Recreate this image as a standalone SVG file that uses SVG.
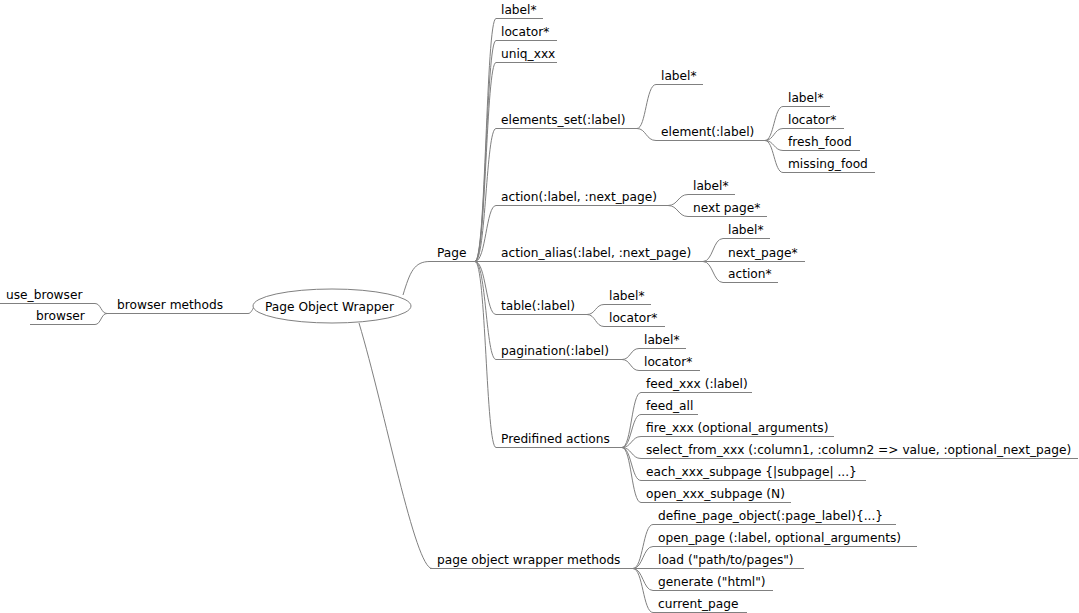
<svg xmlns="http://www.w3.org/2000/svg" width="1079" height="613" viewBox="0 0 1079 613">
  <style>
    text { font-family: "DejaVu Sans", "Liberation Sans", sans-serif; font-size: 12.2px; fill: #000; }
    .u { stroke: #808080; stroke-width: 1; fill: none; }
    .c path { stroke: #808080; stroke-width: 1; fill: none; }
  </style>
  <rect width="1079" height="613" fill="#fff"/>

  <!-- edges -->
  <g class="c" id="connectors">
    <!-- root to left branch -->
    <path d="M248,313.5 C251,313.5 252,310 254,307"/>
    <path d="M107,313.5 C101,313.5 101,303.5 95,303.5"/>
    <path d="M107,313.5 C101,313.5 101,324.5 95,324.5"/>
    <!-- root to Page / wrapper methods -->
    <path d="M403,295 C410,272 414,261.5 430,261.5"/>
    <path d="M359,323 C385,410 415,568.5 432,568.5"/>
    <!-- Page fork -->
    <path d="M475,261.5 C486,261.5 486,18.5 496,18.5"/>
    <path d="M475,261.5 C486,261.5 486,40.5 496,40.5"/>
    <path d="M475,261.5 C486,261.5 486,62.5 496,62.5"/>
    <path d="M475,261.5 C486,261.5 486,128.5 496,128.5"/>
    <path d="M475,261.5 C486,261.5 486,205.5 496,205.5"/>
    <path d="M475,261.5 L496,261.5"/>
    <path d="M475,261.5 C486,261.5 486,314.5 496,314.5"/>
    <path d="M475,261.5 C486,261.5 486,359.5 496,359.5"/>
    <path d="M475,261.5 C486,261.5 486,447.5 496,447.5"/>
    <!-- elements_set -->
    <path d="M637,128.5 C646,128.5 646,84.5 656,84.5"/>
    <path d="M637,128.5 C646,128.5 646,140.5 656,140.5"/>
    <!-- element -->
    <path d="M765,140.5 C774,140.5 774,106.5 783,106.5"/>
    <path d="M765,140.5 C774,140.5 774,128.5 783,128.5"/>
    <path d="M765,140.5 C774,140.5 774,150.5 783,150.5"/>
    <path d="M765,140.5 C774,140.5 774,172.5 783,172.5"/>
    <!-- action -->
    <path d="M668,205.5 C678,205.5 678,194.5 688,194.5"/>
    <path d="M668,205.5 C678,205.5 678,216.5 688,216.5"/>
    <!-- action_alias -->
    <path d="M703,261.5 C713,261.5 713,238.5 723,238.5"/>
    <path d="M703,261.5 L723,261.5"/>
    <path d="M703,261.5 C713,261.5 713,282.5 723,282.5"/>
    <!-- table -->
    <path d="M587,314.5 C595.5,314.5 595.5,304.5 604,304.5"/>
    <path d="M587,314.5 C595.5,314.5 595.5,326.5 604,326.5"/>
    <!-- pagination -->
    <path d="M622,359.5 C630.5,359.5 630.5,348.5 639,348.5"/>
    <path d="M622,359.5 C630.5,359.5 630.5,370.5 639,370.5"/>
    <!-- predefined actions -->
    <path d="M622,447.5 C631.5,447.5 631.5,392.5 641,392.5"/>
    <path d="M622,447.5 C631.5,447.5 631.5,414.5 641,414.5"/>
    <path d="M622,447.5 C631.5,447.5 631.5,436.5 641,436.5"/>
    <path d="M622,447.5 C631.5,447.5 631.5,458.5 641,458.5"/>
    <path d="M622,447.5 C631.5,447.5 631.5,480.5 641,480.5"/>
    <path d="M622,447.5 C631.5,447.5 631.5,502.5 641,502.5"/>
    <!-- wrapper methods -->
    <path d="M633,568.5 C643,568.5 643,524.5 653,524.5"/>
    <path d="M633,568.5 C643,568.5 643,546.5 653,546.5"/>
    <path d="M633,568.5 L653,568.5"/>
    <path d="M633,568.5 C643,568.5 643,590.5 653,590.5"/>
    <path d="M633,568.5 C643,568.5 643,612.5 653,612.5"/>
  </g>

  <!-- root -->
  <g id="root">
    <ellipse cx="332" cy="306" rx="79" ry="17" fill="#fff" stroke="#808080" stroke-width="1"/>
    <text x="265" y="311">Page Object Wrapper</text>
  </g>

  <!-- left branch -->
  <g id="browser-methods"><line class="u" x1="107" y1="313.5" x2="248" y2="313.5"/><text x="117" y="309">browser methods</text></g>
  <g id="use-browser"><line class="u" x1="0" y1="303.5" x2="95" y2="303.5"/><text x="6" y="299">use_browser</text></g>
  <g id="browser"><line class="u" x1="30" y1="324.5" x2="95" y2="324.5"/><text x="36" y="320">browser</text></g>

  <!-- Page -->
  <g id="page"><line class="u" x1="430" y1="261.5" x2="475" y2="261.5"/><text x="437" y="257">Page</text></g>
  <g id="page-label"><line class="u" x1="496" y1="18.5" x2="543" y2="18.5"/><text x="501" y="14">label*</text></g>
  <g id="page-locator"><line class="u" x1="496" y1="40.5" x2="557" y2="40.5"/><text x="501" y="36">locator*</text></g>
  <g id="page-uniq"><line class="u" x1="496" y1="62.5" x2="557" y2="62.5"/><text x="501" y="58">uniq_xxx</text></g>

  <g id="elements-set"><line class="u" x1="496" y1="128.5" x2="637" y2="128.5"/><text x="501" y="124">elements_set(:label)</text></g>
  <g id="elements-set-label"><line class="u" x1="656" y1="84.5" x2="703" y2="84.5"/><text x="661" y="80">label*</text></g>
  <g id="element"><line class="u" x1="656" y1="140.5" x2="765" y2="140.5"/><text x="661" y="136">element(:label)</text></g>
  <g id="element-label"><line class="u" x1="783" y1="106.5" x2="830" y2="106.5"/><text x="788" y="102">label*</text></g>
  <g id="element-locator"><line class="u" x1="783" y1="128.5" x2="844" y2="128.5"/><text x="788" y="124">locator*</text></g>
  <g id="element-fresh"><line class="u" x1="783" y1="150.5" x2="860" y2="150.5"/><text x="788" y="146">fresh_food</text></g>
  <g id="element-missing"><line class="u" x1="783" y1="172.5" x2="875" y2="172.5"/><text x="788" y="168">missing_food</text></g>

  <g id="action"><line class="u" x1="496" y1="205.5" x2="668" y2="205.5"/><text x="501" y="201">action(:label, :next_page)</text></g>
  <g id="action-label"><line class="u" x1="688" y1="194.5" x2="735" y2="194.5"/><text x="693" y="190">label*</text></g>
  <g id="action-next"><line class="u" x1="688" y1="216.5" x2="767" y2="216.5"/><text x="693" y="212">next page*</text></g>

  <g id="action-alias"><line class="u" x1="496" y1="261.5" x2="703" y2="261.5"/><text x="501" y="257">action_alias(:label, :next_page)</text></g>
  <g id="alias-label"><line class="u" x1="723" y1="238.5" x2="770" y2="238.5"/><text x="728" y="234">label*</text></g>
  <g id="alias-next"><line class="u" x1="723" y1="261.5" x2="805" y2="261.5"/><text x="728" y="257">next_page*</text></g>
  <g id="alias-action"><line class="u" x1="723" y1="282.5" x2="778" y2="282.5"/><text x="728" y="278">action*</text></g>

  <g id="table"><line class="u" x1="496" y1="314.5" x2="587" y2="314.5"/><text x="501" y="310">table(:label)</text></g>
  <g id="table-label"><line class="u" x1="604" y1="304.5" x2="651" y2="304.5"/><text x="609" y="300">label*</text></g>
  <g id="table-locator"><line class="u" x1="604" y1="326.5" x2="665" y2="326.5"/><text x="609" y="322">locator*</text></g>

  <g id="pagination"><line class="u" x1="496" y1="359.5" x2="622" y2="359.5"/><text x="501" y="355">pagination(:label)</text></g>
  <g id="pagination-label"><line class="u" x1="639" y1="348.5" x2="686" y2="348.5"/><text x="644" y="344">label*</text></g>
  <g id="pagination-locator"><line class="u" x1="639" y1="370.5" x2="700" y2="370.5"/><text x="644" y="366">locator*</text></g>

  <g id="predefined"><line class="u" x1="496" y1="447.5" x2="622" y2="447.5"/><text x="501" y="443">Predifined actions</text></g>
  <g id="feed-xxx"><line class="u" x1="641" y1="392.5" x2="752" y2="392.5"/><text x="646" y="388">feed_xxx (:label)</text></g>
  <g id="feed-all"><line class="u" x1="641" y1="414.5" x2="698" y2="414.5"/><text x="646" y="410">feed_all</text></g>
  <g id="fire-xxx"><line class="u" x1="641" y1="436.5" x2="834" y2="436.5"/><text x="646" y="432">fire_xxx (optional_arguments)</text></g>
  <g id="select-from"><line class="u" x1="641" y1="458.5" x2="1078" y2="458.5"/><text x="646" y="454">select_from_xxx (:column1, :column2 =&gt; value, :optional_next_page)</text></g>
  <g id="each-subpage"><line class="u" x1="641" y1="480.5" x2="866" y2="480.5"/><text x="646" y="476">each_xxx_subpage {|subpage| ...}</text></g>
  <g id="open-subpage"><line class="u" x1="641" y1="502.5" x2="791" y2="502.5"/><text x="646" y="498">open_xxx_subpage (N)</text></g>

  <!-- wrapper methods -->
  <g id="wrapper-methods"><line class="u" x1="430" y1="568.5" x2="633" y2="568.5"/><text x="437" y="564">page object wrapper methods</text></g>
  <g id="define-page"><line class="u" x1="653" y1="524.5" x2="896" y2="524.5"/><text x="658" y="520">define_page_object(:page_label){...}</text></g>
  <g id="open-page"><line class="u" x1="653" y1="546.5" x2="917" y2="546.5"/><text x="658" y="542">open_page (:label, optional_arguments)</text></g>
  <g id="load"><line class="u" x1="653" y1="568.5" x2="804" y2="568.5"/><text x="658" y="564">load ("path/to/pages")</text></g>
  <g id="generate"><line class="u" x1="653" y1="590.5" x2="773" y2="590.5"/><text x="658" y="586">generate ("html")</text></g>
  <g id="current-page"><line class="u" x1="653" y1="612.5" x2="747" y2="612.5"/><text x="658" y="608">current_page</text></g>
</svg>
